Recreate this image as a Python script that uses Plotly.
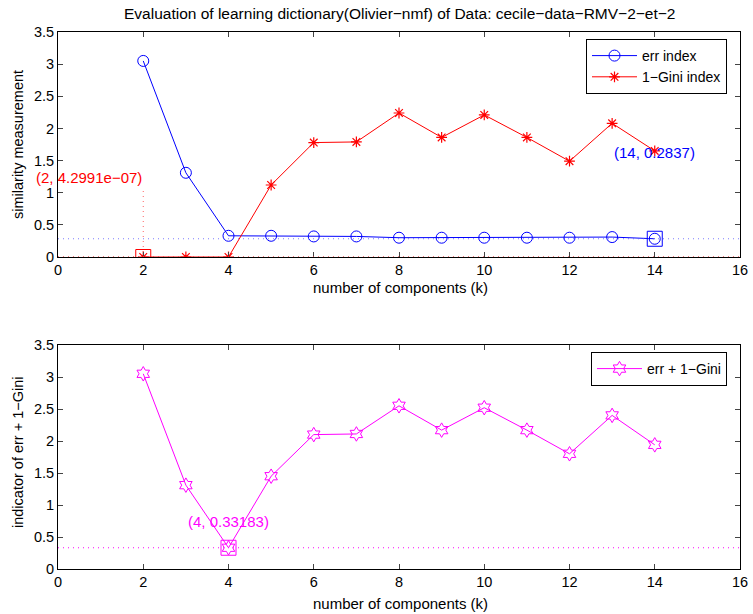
import plotly.graph_objects as go

k = [2, 3, 4, 5, 6, 7, 8, 9, 10, 11, 12, 13, 14]
err_index = [3.05, 1.31, 0.33, 0.33, 0.32, 0.32, 0.30, 0.30, 0.30, 0.30, 0.30, 0.31, 0.2837]
gini_index = [4.2991e-07, 0.0, 0.0, 1.12, 1.78, 1.79, 2.24, 1.86, 2.21, 1.86, 1.49, 2.08, 1.65]
combined = [3.05, 1.31, 0.33183, 1.45, 2.10, 2.11, 2.55, 2.17, 2.52, 2.17, 1.80, 2.40, 1.94]

x_ticks = [0, 2, 4, 6, 8, 10, 12, 14, 16]
y_ticks = [0, 0.5, 1, 1.5, 2, 2.5, 3, 3.5]
y_labels = ["0", "0.5", "1", "1.5", "2", "2.5", "3", "3.5"]

FONT = "Liberation Sans, Arial, sans-serif"
FS = 14.5
W, H = 753, 614
DOT = "1px,4px"

fig = go.Figure()

fig.add_trace(go.Scatter(x=k, y=err_index, mode="lines+markers", name="err index",
                         line=dict(color="blue", width=1),
                         marker=dict(symbol="circle-open", size=11, color="blue", line=dict(width=1)),
                         xaxis="x", yaxis="y", legend="legend"))
fig.add_trace(go.Scatter(x=k, y=gini_index, mode="lines+markers", name="1\u2212Gini index",
                         line=dict(color="red", width=1),
                         marker=dict(symbol="asterisk-open", size=9, color="red", line=dict(width=1.2, color="red")),
                         xaxis="x", yaxis="y", legend="legend"))
fig.add_trace(go.Scatter(x=k, y=combined, mode="lines+markers", name="err + 1\u2212Gini",
                         line=dict(color="magenta", width=1),
                         marker=dict(symbol="hexagram-open", size=11, color="magenta", line=dict(width=1)),
                         xaxis="x2", yaxis="y2", legend="legend2"))

# data tip markers (squares)
fig.add_trace(go.Scatter(x=[k[0]], y=[gini_index[0]], mode="markers", showlegend=False,
                         marker=dict(symbol="square-open", size=15, color="red", line=dict(width=1)),
                         xaxis="x", yaxis="y"))
fig.add_trace(go.Scatter(x=[k[-1]], y=[err_index[-1]], mode="markers", showlegend=False,
                         marker=dict(symbol="square-open", size=15, color="blue", line=dict(width=1)),
                         xaxis="x", yaxis="y"))
fig.add_trace(go.Scatter(x=[k[2]], y=[combined[2]], mode="markers", showlegend=False,
                         marker=dict(symbol="square-open", size=15, color="magenta", line=dict(width=1)),
                         xaxis="x2", yaxis="y2"))

shapes = [
    dict(type="line", xref="x", yref="y", x0=0, x1=16, y0=err_index[-1], y1=err_index[-1],
         line=dict(color="rgba(90,90,255,0.8)", width=1, dash=DOT)),
    dict(type="line", xref="x", yref="y", x0=k[0], x1=k[0], y0=0, y1=1.07,
         line=dict(color="rgba(255,60,60,0.8)", width=1, dash=DOT)),
    dict(type="line", xref="x", yref="y", x0=0, x1=16, y0=0.005, y1=0.005,
         line=dict(color="rgba(255,60,60,0.8)", width=1, dash=DOT)),
    dict(type="line", xref="x2", yref="y2", x0=0, x1=16, y0=combined[2], y1=combined[2],
         line=dict(color="magenta", width=1, dash=DOT)),
]

annotations = [
    dict(text="Evaluation of learning dictionary(Olivier\u2212nmf) of Data: cecile\u2212data\u2212RMV\u22122\u2212et\u22122",
         xref="paper", yref="paper", x=399 / W, y=1 - 13 / H, showarrow=False,
         font=dict(size=15.5, color="black", family=FONT), xanchor="center", yanchor="middle"),
    dict(text="(2, 4.2991e\u221207)", xref="x", yref="y", x=0.73, y=1.23, showarrow=False,
         font=dict(size=15, color="red", family=FONT), xanchor="center", yanchor="middle"),
    dict(text="(14, 0.2837)", xref="x", yref="y", x=14.0, y=1.62, showarrow=False,
         font=dict(size=15, color="blue", family=FONT), xanchor="center", yanchor="middle"),
    dict(text="(4, 0.33183)", xref="x2", yref="y2", x=3.99, y=0.75, showarrow=False,
         font=dict(size=15, color="magenta", family=FONT), xanchor="center", yanchor="middle"),
    dict(text="similarity measurement", xref="paper", yref="paper", x=18 / W, y=1 - 145 / H,
         textangle=-90, showarrow=False, font=dict(size=FS, color="black", family=FONT),
         xanchor="center", yanchor="middle"),
    dict(text="indicator of err + 1\u2212Gini", xref="paper", yref="paper", x=18 / W, y=1 - 452 / H,
         textangle=-90, showarrow=False, font=dict(size=FS, color="black", family=FONT),
         xanchor="center", yanchor="middle"),
    dict(text="number of components (k)", xref="paper", yref="paper", x=400 / W, y=1 - 287 / H,
         showarrow=False, font=dict(size=15, color="black", family=FONT),
         xanchor="center", yanchor="middle"),
    dict(text="number of components (k)", xref="paper", yref="paper", x=400 / W, y=1 - 603 / H,
         showarrow=False, font=dict(size=15, color="black", family=FONT),
         xanchor="center", yanchor="middle"),
]

axis_common = dict(range=[0, 16], tickvals=x_ticks, ticks="inside", ticklen=5, mirror="ticks",
                   showline=True, linecolor="black", linewidth=1, showgrid=False, zeroline=False,
                   automargin=False, tickfont=dict(size=FS, color="black", family=FONT))
yaxis_common = dict(range=[0, 3.5], tickvals=y_ticks, ticktext=y_labels, ticks="inside", ticklen=5,
                    mirror="ticks", showline=True, linecolor="black", linewidth=1, showgrid=False,
                    zeroline=False, automargin=False, tickfont=dict(size=FS, color="black", family=FONT))

fig.update_layout(
    width=W, height=H,
    margin=dict(l=0, r=0, t=0, b=0, autoexpand=False),
    paper_bgcolor="white", plot_bgcolor="white",
    font=dict(family=FONT, size=FS, color="black"),
    xaxis=dict(domain=[58 / W, 740 / W], anchor="y", **axis_common),
    yaxis=dict(domain=[1 - 257 / H, 1 - 32 / H], anchor="x", **yaxis_common),
    xaxis2=dict(domain=[58 / W, 740 / W], anchor="y2", **axis_common),
    yaxis2=dict(domain=[1 - 569 / H, 1 - 345 / H], anchor="x2", **yaxis_common),
    legend=dict(x=727 / W, y=1 - 39 / H, xanchor="right", yanchor="top",
                bordercolor="black", borderwidth=1, bgcolor="white",
                font=dict(size=14, family=FONT), tracegroupgap=0, itemwidth=45),
    legend2=dict(x=727 / W, y=1 - 352 / H, xanchor="right", yanchor="top",
                 bordercolor="black", borderwidth=1, bgcolor="white",
                 font=dict(size=14, family=FONT), itemwidth=45),
    shapes=shapes,
    annotations=annotations,
)

fig.write_html("out.html", config={"displayModeBar": False},
               post_script="document.body.style.margin='0px';document.body.style.overflow='hidden';")
